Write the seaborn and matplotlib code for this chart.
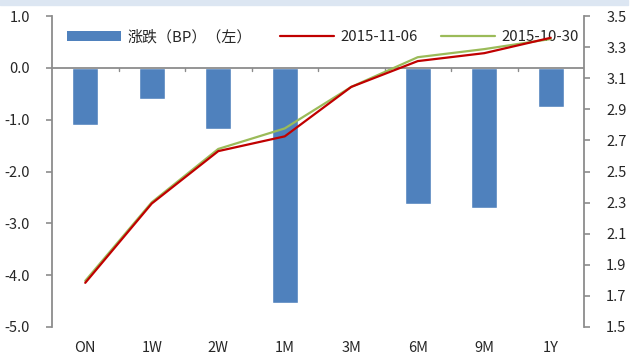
import numpy as np
import pandas as pd
import matplotlib
matplotlib.use("Agg")
import matplotlib.pyplot as plt
import seaborn as sns
from matplotlib.lines import Line2D
from matplotlib.patches import Patch, Rectangle

sns.set_theme(style="white")
plt.rcParams["font.family"] = ["Noto Sans CJK SC", "DejaVu Sans"]

tenors = ["ON", "1W", "2W", "1M", "3M", "6M", "9M", "1Y"]
change_bp = [-1.10, -0.60, -1.18, -4.54, -0.02, -2.63, -2.70, -0.75]
rate_1106 = [1.784, 2.294, 2.631, 2.726, 3.044, 3.210, 3.261, 3.360]
rate_1030 = [1.797, 2.302, 2.645, 2.777, 3.044, 3.235, 3.287, 3.352]

bar_label = "涨跌（BP）（左）"
line1_label = "2015-11-06"
line2_label = "2015-10-30"

left_ticks = [1.0, 0.0, -1.0, -2.0, -3.0, -4.0, -5.0]
right_ticks = [1.5, 1.7, 1.9, 2.1, 2.3, 2.5, 2.7, 2.9, 3.1, 3.3, 3.5]

BLUE = "#4f81bd"
RED = "#c00000"
GREEN = "#9bbb59"
GREY = "#8c8c8c"

W, H = 638, 356

df = pd.DataFrame({"tenor": tenors, "change": change_bp,
                   "r1106": rate_1106, "r1030": rate_1030})

fig = plt.figure(figsize=(W / 100, H / 100), dpi=100)
fig.patch.set_facecolor("white")
fig.patches.append(Rectangle((0, 0.985), 0.985, 0.015, transform=fig.transFigure,
                             color="#dce6f2", zorder=-5))
ax = fig.add_axes([52 / W, 1 - 327 / H, (584 - 52) / W, (327 - 16) / H])
ax.patch.set_alpha(0)

sns.barplot(data=df, x="tenor", y="change", color=BLUE, width=0.39,
            saturation=1, ax=ax, zorder=2)
ax.set_ylim(-5.0, 1.0)
ax.set_xlim(-0.5, len(tenors) - 0.5)
ax.set_yticks(left_ticks)
ax.set_yticklabels([f"{v:.1f}" for v in left_ticks])
ax.set_xlabel("")
ax.set_ylabel("")

# zero baseline with category separators
ax.axhline(0, color=GREY, lw=1.3, zorder=3)
for b in np.arange(0.5, len(tenors) - 0.5, 1.0):
    ax.plot([b, b], [0, -0.06], color=GREY, lw=1.0, zorder=3)

for s in ["top", "right", "bottom"]:
    ax.spines[s].set_visible(False)
ax.spines["left"].set_color(GREY)
ax.spines["left"].set_linewidth(1.3)
ax.tick_params(axis="y", direction="out", length=4, width=1.2, color=GREY,
               labelsize=10.5, pad=12, left=True)
ax.tick_params(axis="x", length=0, labelsize=10.5, pad=10)

ax2 = ax.twinx()
ax2.patch.set_alpha(0)
sns.lineplot(x=np.arange(len(tenors)), y=df["r1030"], color=GREEN, lw=1.6,
             ax=ax2, zorder=4)
sns.lineplot(x=np.arange(len(tenors)), y=df["r1106"], color=RED, lw=1.6,
             ax=ax2, zorder=5)
ax2.set_ylim(1.5, 3.5)
ax2.set_yticks(right_ticks)
ax2.set_yticklabels([f"{v:.1f}" for v in right_ticks])
ax2.set_ylabel("")
for s in ["top", "left", "bottom"]:
    ax2.spines[s].set_visible(False)
ax2.spines["right"].set_color(GREY)
ax2.spines["right"].set_linewidth(1.3)
ax2.tick_params(axis="y", direction="out", length=4, width=1.2, color=GREY,
                labelsize=10.5, pad=12, right=True)

# legend entries laid out along the top of the plot area, beneath the series
entries = [
    (Patch(facecolor=BLUE, edgecolor="none"), bar_label, 67),
    (Line2D([], [], color=RED, lw=1.6), line1_label, 280),
    (Line2D([], [], color=GREEN, lw=1.6), line2_label, 441),
]
for handle, label, xpix in entries:
    leg = fig.legend([handle], [label], loc="center left",
                     bbox_to_anchor=(xpix / W, 1 - 37 / H),
                     frameon=False, fontsize=10.8, handlelength=3.6,
                     handleheight=0.6, handletextpad=0.45,
                     borderpad=0, borderaxespad=0)
    leg.set_zorder(-1)

fig.savefig("out.png", dpi=100)
